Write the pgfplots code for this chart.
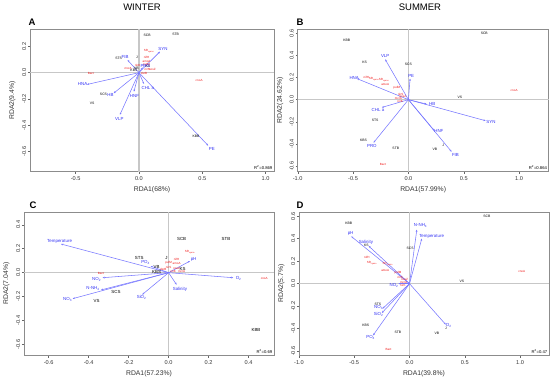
\documentclass[border=0pt]{standalone}
\usepackage{pgfplots}
\pgfplotsset{compat=1.18}
\usepackage{pgfplotstable}
\usepackage{fontspec}
\setmainfont{Liberation Sans}
\usetikzlibrary{arrows.meta}
\definecolor{arrowc}{RGB}{120,120,255}
\definecolor{labc}{RGB}{50,50,245}
\definecolor{redc}{RGB}{240,20,20}
\newcommand{\sub}[1]{\textsubscript{#1}}

% ---------- Panel A (winter) ----------
\pgfplotstableread[row sep=\\]{
x y u v \\
0 0 -0.09 0.096 \\
0 0 0.166 0.16 \\
0 0 0.03 0.04 \\
0 0 -0.41 -0.09 \\
0 0 -0.20 -0.157 \\
0 0 -0.04 -0.145 \\
0 0 0.04 -0.086 \\
0 0 -0.15 -0.32 \\
0 0 0.547 -0.556 \\
}\arrA
\pgfplotstableread[row sep=\\]{
x y label \\
-0.11 0.117 FIB \\
0.19 0.178 SYN \\
0.05 0.05 PRO \\
-0.445 -0.09 HNA \\
-0.225 -0.172 HB \\
-0.035 -0.18 HNF \\
0.07 -0.118 {CHL a} \\
-0.155 -0.355 VLP \\
0.575 -0.58 PE \\
}\labA
\pgfplotstableread[row sep=\\]{
x y label \\
0.065 0.284 SCB \\
0.29 0.29 STB \\
-0.16 0.107 STS \\
-0.28 -0.165 SCS \\
-0.37 -0.236 VS \\
0.45 -0.487 KBB \\
-0.015 0.12 J \\
-0.04 0.02 KBS \\
-0.02 0.035 VB \\
0.07 0.045 KS \\
}\siteA
\pgfplotstableread[row sep=\\]{
x y label \\
-0.38 -0.01 Bact \\
0.475 -0.06 cnoA \\
0.08 0.16 {SR\sub{cyano}} \\
0.06 0.115 nifH \\
0.06 0.085 amoA \\
0.06 0.06 pufM \\
0.065 0.028 nirS \\
0.105 0.022 nosZ \\
-0.085 0.033 mcrA \\
-0.01 0.052 nirK \\
0.04 -0.005 dsrB \\
}\redA

% ---------- Panel B (summer) ----------
\pgfplotstableread[row sep=\\]{
x y u v \\
0 0 -0.21 0.364 \\
0 0 -0.465 0.19 \\
0 0 0.015 0.19 \\
0 0 0.165 -0.04 \\
0 0 0.697 -0.19 \\
0 0 0.234 -0.28 \\
0 0 0.39 -0.47 \\
0 0 -0.315 -0.388 \\
0 0 -0.24 -0.07 \\
}\arrB
\pgfplotstableread[row sep=\\]{
x y label \\
-0.21 0.39 VLP \\
-0.49 0.2 HNA \\
0.025 0.217 PE \\
0.215 -0.04 HB \\
0.745 -0.2 SYN \\
0.275 -0.28 HNF \\
0.425 -0.5 FIB \\
-0.33 -0.418 PRO \\
-0.275 -0.093 {CHL a} \\
}\labB
\pgfplotstableread[row sep=\\]{
x y label \\
-0.556 0.538 KBB \\
0.685 0.6 SCB \\
-0.396 0.34 KS \\
0.0 0.32 SCS \\
0.465 0.024 VS \\
-0.3 -0.19 STS \\
-0.405 -0.367 KBS \\
-0.114 -0.436 STB \\
0.24 -0.445 VB \\
0.315 -0.415 J \\
}\siteB
\pgfplotstableread[row sep=\\]{
x y label \\
0.955 0.087 cnoA \\
-0.23 -0.586 Bact \\
-0.38 0.2 nifH \\
-0.31 0.183 {SR\sub{cyano}} \\
-0.22 0.177 {SR\sub{cyano}} \\
-0.21 0.14 amoA \\
-0.105 0.11 pufM \\
-0.07 0.048 nirS \\
-0.05 0.027 nosZ \\
-0.09 0.01 mcrA \\
-0.075 -0.015 nirK \\
}\redB

% ---------- Panel C (winter, environment) ----------
\pgfplotstableread[row sep=\\]{
x y u v \\
0 0 -0.538 0.239 \\
0 0 -0.09 0.055 \\
0 0 0.107 0.097 \\
0 0 0.323 -0.042 \\
0 0 0.04 -0.1 \\
0 0 -0.132 -0.183 \\
0 0 -0.48 -0.217 \\
0 0 -0.338 -0.144 \\
0 0 -0.33 -0.042 \\
}\arrC
\pgfplotstableread[row sep=\\]{
x y label \\
-0.545 0.26 Temperature \\
-0.115 0.083 {PO\sub{4}} \\
0.125 0.107 pH \\
0.35 -0.05 {O\sub{2}} \\
0.057 -0.135 Salinity \\
-0.135 -0.207 {SiO\sub{2}} \\
-0.505 -0.225 {NO\sub{3}} \\
-0.378 -0.135 {N-NH\sub{4}} \\
-0.36 -0.053 {NO\sub{2}} \\
}\labC
\pgfplotstableread[row sep=\\]{
x y label \\
0.065 0.283 SCB \\
0.287 0.283 STB \\
-0.147 0.122 STS \\
-0.06 0.05 VB \\
-0.06 0.005 KBS \\
-0.01 0.125 J \\
0.07 0.033 KS \\
-0.263 -0.164 SCS \\
-0.36 -0.236 VS \\
0.437 -0.475 KBB \\
}\siteC
\pgfplotstableread[row sep=\\]{
x y label \\
0.478 -0.05 cnoA \\
-0.338 -0.003 Bact \\
0.107 0.172 {SR\sub{cyano}} \\
0.04 0.108 nifH \\
0.04 0.08 amoA \\
0.0 0.08 pufM \\
0.0 0.047 nirS \\
0.04 0.033 nosZ \\
0.065 0.011 mcrA \\
0.023 0.011 nirK \\
-0.027 0.025 dsrB \\
}\redC

% ---------- Panel D (summer, environment) ----------
\pgfplotstableread[row sep=\\]{
x y u v \\
0 0 -0.527 0.42 \\
0 0 -0.37 0.335 \\
0 0 0.066 0.48 \\
0 0 0.111 0.4 \\
0 0 -0.1 0.0 \\
0 0 -0.244 -0.222 \\
0 0 -0.25 -0.26 \\
0 0 -0.33 -0.46 \\
0 0 0.328 -0.364 \\
}\arrD
\pgfplotstableread[row sep=\\]{
x y label \\
-0.533 0.447 pH \\
-0.395 0.37 Salinity \\
0.1 0.52 {N-NH\sub{4}} \\
0.2 0.424 Temperature \\
-0.14 -0.012 {NO\sub{2}} \\
-0.28 -0.213 {NO\sub{3}} \\
-0.28 -0.276 {SiO\sub{2}} \\
-0.352 -0.48 {PO\sub{4}} \\
0.355 -0.376 {O\sub{2}} \\
}\labD
\pgfplotstableread[row sep=\\]{
x y label \\
-0.55 0.533 KBB \\
0.7 0.6 SCB \\
-0.39 0.34 KS \\
0.006 0.317 SCS \\
0.473 0.02 VS \\
-0.286 -0.18 STS \\
-0.395 -0.367 KBS \\
-0.105 -0.433 STB \\
0.247 -0.444 VB \\
0.33 -0.4 J \\
}\siteD
\pgfplotstableread[row sep=\\]{
x y label \\
1.015 0.104 cnoA \\
-0.19 -0.584 Bact \\
-0.386 0.231 nifH \\
-0.34 0.184 {SR\sub{cyano}} \\
-0.196 0.169 {SR\sub{cyano}} \\
-0.22 0.121 amoA \\
-0.105 0.098 pufM \\
-0.084 0.059 nirS \\
-0.045 0.039 nosZ \\
-0.054 0.01 mcrA \\
-0.06 -0.015 nirK \\
}\redD

\pgfplotsset{
  rda/.style={
    scale only axis, anchor=south west, clip=false,
    axis line style={black!45, line width=0.5pt},
    tick style={black!60, line width=0.4pt},
    tick align=outside, major tick length=2.2pt,
    xtick pos=lower, ytick pos=left,
    tick label style={font=\fontsize{5.6}{6}\selectfont, text=black!80},
    yticklabel style={rotate=90, anchor=south, inner sep=1.5pt},
    xticklabel style={inner sep=2.5pt},
    /pgf/number format/assume math mode=true,
    /pgf/number format/fixed, /pgf/number format/fixed zerofill,
    /pgf/number format/precision=1,
    label style={font=\fontsize{6.8}{8}\selectfont, text=black!80},
    xlabel style={yshift=0pt},
    ylabel style={yshift=1.5pt},
  },
  zeroline/.style={black!22, line width=1.1pt, forget plot},
  arr/.style={arrowc, line width=0.55pt, quiver={u=\thisrow{u}, v=\thisrow{v}}, -{Stealth[length=2.2pt, width=1.8pt]}},
  lab/.style={only marks, mark=*, mark size=0pt, mark options={draw=none, fill=none},
    nodes near coords, point meta=explicit symbolic,
    nodes near coords style={anchor=center, inner sep=0pt, font=\fontsize{4.4}{5}\selectfont, text=labc}},
  site/.style={lab, nodes near coords style={font=\fontsize{3.4}{4}\selectfont, text=black}},
  red/.style={lab, nodes near coords style={font=\fontsize{3.0}{3.5}\selectfont, text=redc}},
}

\begin{document}
\begin{tikzpicture}
\path[use as bounding box] (0pt,0pt) rectangle (550pt,384pt);

\node[font=\fontsize{9.5}{11}\selectfont] at (142pt,376.5pt) {WINTER};
\node[font=\fontsize{9.5}{11}\selectfont] at (420pt,376.5pt) {SUMMER};
\node[font=\bfseries\fontsize{9.5}{11}\selectfont] at (32pt,362pt) {A};
\node[font=\bfseries\fontsize{9.5}{11}\selectfont] at (300pt,362pt) {B};
\node[font=\bfseries\fontsize{9.5}{11}\selectfont] at (33pt,179pt) {C};
\node[font=\bfseries\fontsize{9.5}{11}\selectfont] at (300pt,179pt) {D};

% A
\begin{axis}[rda, at={(30pt,212.3pt)}, width=244pt, height=142.4pt,
  xmin=-0.86, xmax=1.066, ymin=-0.754, ymax=0.33,
  xtick={-0.5,0,0.5,1}, ytick={-0.6,-0.4,-0.2,0,0.2},
  xlabel={RDA1(68\%)}, ylabel={RDA2(9.4\%)}]
\addplot[zeroline] coordinates {(-0.86,0) (1.066,0)};
\addplot[zeroline] coordinates {(0,-0.754) (0,0.33)};
\addplot[arr] table[x=x,y=y] {\arrA};
\addplot[site] table[x=x,y=y,meta=label] {\siteA};
\addplot[red] table[x=x,y=y,meta=label] {\redA};
\addplot[lab] table[x=x,y=y,meta=label] {\labA};
\node[anchor=south east, font=\fontsize{4.2}{5}\selectfont, inner sep=1.5pt] at (rel axis cs:1,0) {R\textsuperscript{2}=0.869};
\end{axis}

% B
\begin{axis}[rda, at={(297.7pt,212.3pt)}, width=251pt, height=142.4pt,
  xmin=-1.0, xmax=1.267, ymin=-0.65, ymax=0.635,
  xtick={-1,-0.5,0,0.5,1}, ytick={-0.6,-0.4,-0.2,0,0.2,0.4,0.6},
  xlabel={RDA1(57.99\%)}, ylabel={RDA2(24.62\%)}]
\addplot[zeroline] coordinates {(-1,0) (1.267,0)};
\addplot[zeroline] coordinates {(0,-0.65) (0,0.635)};
\addplot[arr] table[x=x,y=y] {\arrB};
\addplot[site] table[x=x,y=y,meta=label] {\siteB};
\addplot[red] table[x=x,y=y,meta=label] {\redB};
\addplot[lab] table[x=x,y=y,meta=label] {\labB};
\node[anchor=south east, font=\fontsize{4.2}{5}\selectfont, inner sep=1.5pt] at (rel axis cs:1,0) {R\textsuperscript{2}=0.864};
\end{axis}

% C
\begin{axis}[rda, at={(24pt,28.7pt)}, width=250pt, height=143.3pt,
  xmin=-0.723, xmax=0.527, ymin=-0.689, ymax=0.506,
  xtick={-0.6,-0.4,-0.2,0,0.2,0.4}, ytick={-0.6,-0.4,-0.2,0,0.2,0.4},
  xlabel={RDA1(57.23\%)}, ylabel={RDA2(7.04\%)}]
\addplot[zeroline] coordinates {(-0.723,0) (0.527,0)};
\addplot[zeroline] coordinates {(0,-0.689) (0,0.506)};
\addplot[arr] table[x=x,y=y] {\arrC};
\addplot[site, nodes near coords style={font=\fontsize{4.4}{5}\selectfont}] table[x=x,y=y,meta=label] {\siteC};
\addplot[red] table[x=x,y=y,meta=label] {\redC};
\addplot[lab] table[x=x,y=y,meta=label] {\labC};
\node[anchor=south east, font=\fontsize{4.2}{5}\selectfont, inner sep=1.5pt] at (rel axis cs:1,0) {R\textsuperscript{2}=0.69};
\end{axis}

% D
\begin{axis}[rda, at={(299pt,28.7pt)}, width=250pt, height=143.3pt,
  xmin=-1.0, xmax=1.262, ymin=-0.637, ymax=0.637,
  xtick={-1,-0.5,0,0.5,1}, ytick={-0.6,-0.4,-0.2,0,0.2,0.4,0.6},
  xlabel={RDA1(39.8\%)}, ylabel={RDA2(5.7\%)}]
\addplot[zeroline] coordinates {(-1,0) (1.262,0)};
\addplot[zeroline] coordinates {(0,-0.637) (0,0.637)};
\addplot[arr] table[x=x,y=y] {\arrD};
\addplot[site] table[x=x,y=y,meta=label] {\siteD};
\addplot[red] table[x=x,y=y,meta=label] {\redD};
\addplot[lab] table[x=x,y=y,meta=label] {\labD};
\node[anchor=south east, font=\fontsize{4.2}{5}\selectfont, inner sep=1.5pt] at (rel axis cs:1,0) {R\textsuperscript{2}=0.47};
\end{axis}
\end{tikzpicture}
\end{document}
